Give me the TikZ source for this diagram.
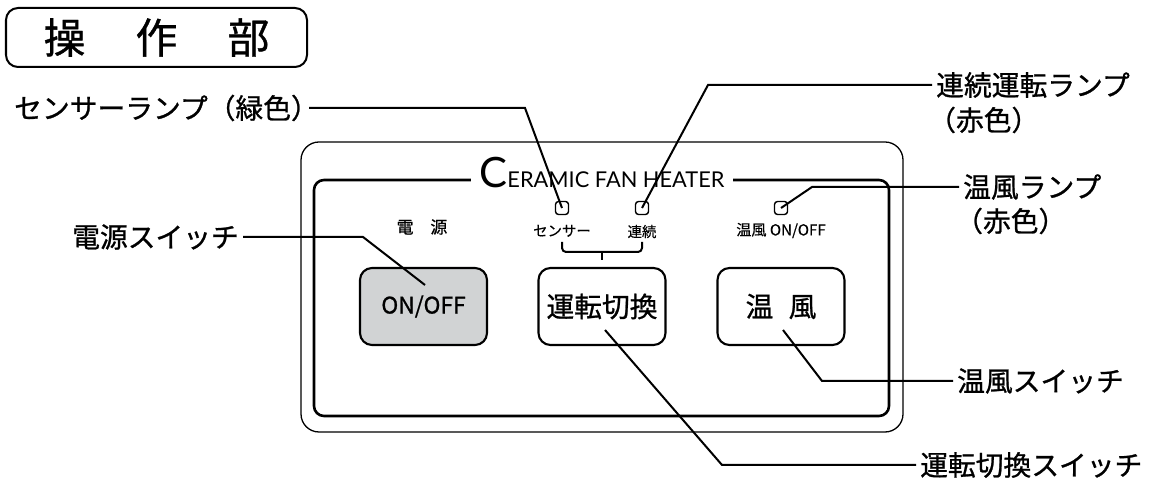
\documentclass[tikz,border=0pt]{standalone}
\usepackage{fontspec}
\setmainfont{Noto Sans CJK JP}[FakeBold=0.9]
\newfontfamily\brandfont{Lato}
\newfontfamily\panelfont{Noto Sans CJK JP}[FakeBold=0.4]
\usepackage{tikz}
\usetikzlibrary{positioning}
\usepackage{color}
\definecolor{switchgray}{RGB}{209, 211, 212}
\newcommand{\closeparen}{\makebox[0.5em][l]{）}}
\newcommand{\calloutsize}{\fontsize{7.9}{9}\selectfont}
\newcommand{\panelsize}{\panelfont\fontsize{4.1}{5}\selectfont}

\tikzset{
  callout/.style={inner sep=1pt, font=\calloutsize},
  leader/.style={line width=0.57pt},
  lamp/.style={draw, rounded corners=0.03cm, minimum size=0.13cm, inner sep=0pt, line width=0.4pt},
  switchbox/.style={draw, line width=0.6pt, rounded corners=0.12cm, minimum width=1.27cm,
                    minimum height=0.77cm, inner sep=0pt},
  paneltext/.style={inner sep=0pt, font=\panelsize}
}

\begin{document}
\begin{tikzpicture}
            \useasboundingbox (0.00, 0.00) rectangle (11.55, -4.83);
            % heading
            \node[draw, line width=0.57pt, rounded corners=0.12cm, minimum width=3.01cm, minimum height=0.59cm,
                  inner sep=0pt, font=\fontsize{11.9}{13}\selectfont] (heading) at ( 1.565, -0.375) {操\hspace{1.2em}作\hspace{1.2em}部};
            % panel
            \draw[line width=0.37pt, rounded corners=0.18cm] ( 3.01, -1.42) rectangle ( 9.03, -4.32);
            \draw[line width=0.74pt, rounded corners=0.10cm] ( 3.14, -1.80) rectangle ( 8.89, -4.16);
            \node[fill=white, inner xsep=0.09cm, inner ysep=0pt, anchor=base] (brand) at ( 6.02, -1.88)
                 {\brandfont\fontsize{11.9}{12}\selectfont C\fontsize{6.2}{7}\selectfont ERAMIC FAN HEATER};
            % lamps
            \node[lamp] (ledsensor) at ( 5.62, -2.08) {};
            \node[lamp] (ledrun)    at ( 6.42, -2.08) {};
            \node[lamp] (ledwarm)   at ( 7.81, -2.08) {};
            \node[paneltext, below=0.09cm of ledsensor] (lblsensor) {センサー};
            \node[paneltext, below=0.09cm of ledrun]    (lblrun)    {連続};
            \node[paneltext, below=0.07cm of ledwarm, font=\panelfont\fontsize{4.3}{5}\selectfont] (lblwarm) {温風 ON/OFF};
            \node[paneltext, font=\fontsize{4.8}{6}\selectfont] (lblpower) at ( 4.22, -2.27) {電　源};
            \draw[line width=0.57pt, rounded corners=0.04cm] ( 5.62, -2.42) -- ( 5.62, -2.52) -- ( 6.42, -2.52) -- ( 6.42, -2.42);
            \draw[line width=0.57pt] ( 6.02, -2.52) -- ( 6.02, -2.60);
            % switches
            \node[switchbox, fill=switchgray, font=\fontsize{6.5}{8}\selectfont] (onoff) at ( 4.235, -3.065) {ON/OFF};
            \node[switchbox, font=\fontsize{7.9}{9}\selectfont] (mode) at ( 6.02, -3.065) {運転切換};
            \node[switchbox, font=\fontsize{7.9}{9}\selectfont] (warm) at ( 7.81, -3.065) {温\hspace{0.55em}風};
            % names
            \node[callout, anchor=west] (namesensor)  at ( 0.10, -1.08) {センサーランプ（緑色\closeparen};
            \node[callout, anchor=west] (namerun)     at ( 9.32, -0.85) {連続運転ランプ};
            \node[callout, anchor=west] (namerunc)    at ( 9.24, -1.20) {（赤色）};
            \node[callout, anchor=west] (namewarmled) at ( 9.59, -1.87) {温風ランプ};
            \node[callout, anchor=west] (namewarmc)   at ( 9.51, -2.21) {（赤色）};
            \node[callout, anchor=west] (namepower)   at ( 0.68, -2.37) {電源スイッチ};
            \node[callout, anchor=west] (namewarm)    at ( 9.53, -3.81) {温風スイッチ};
            \node[callout, anchor=west] (namemode)    at ( 9.16, -4.65) {運転切換スイッチ};
            % leader lines
            \coordinate (bendsensor) at ( 5.25, -1.08);
            \coordinate (bendrun)    at ( 7.08, -0.85);
            \coordinate (bendwarmled) at ( 8.12, -1.87);
            \coordinate (bendpower)  at ( 3.63, -2.37);
            \coordinate (tippower)   at ( 4.25, -2.85);
            \coordinate (bendwarm)   at ( 8.22, -3.81);
            \coordinate (tipwarm)    at ( 7.83, -3.30);
            \coordinate (bendmode)   at ( 7.22, -4.65);
            \coordinate (tipmode)    at ( 6.05, -3.30);
            \draw[leader] (namesensor.east)  -- (bendsensor)  -- (ledsensor.center);
            \draw[leader] (namerun.west)     -- (bendrun)     -- (ledrun.center);
            \draw[leader] (namewarmled.west) -- (bendwarmled) -- (ledwarm.center);
            \draw[leader] (namepower.east)   -- (bendpower)   -- (tippower);
            \draw[leader] (namewarm.west)    -- (bendwarm)    -- (tipwarm);
            \draw[leader] (namemode.west)    -- (bendmode)    -- (tipmode);
        \end{tikzpicture}
\end{document}
